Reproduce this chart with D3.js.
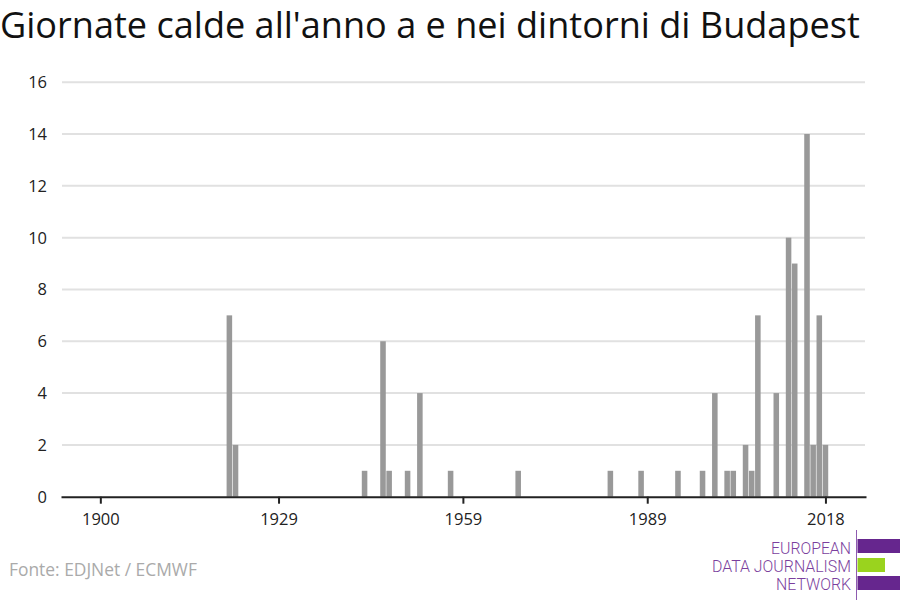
<!DOCTYPE html>
<html>
<head>
<meta charset="utf-8">
<script src="https://cdn.jsdelivr.net/npm/d3@7"></script>
<style>
  body { margin: 0; background: #fff; }
  svg { font-family: "Open Sans", sans-serif; }
</style>
</head>
<body>
<svg id="chart" width="900" height="600"></svg>
<script>
// hot days per year, only years with at least one
const years = [1921, 1922, 1943, 1946, 1947, 1950, 1952, 1957, 1968, 1983, 1988, 1994,
               1998, 2000, 2002, 2003, 2005, 2006, 2007, 2010, 2012, 2013, 2015, 2016, 2017, 2018];
const hotDays = [7, 2, 1, 6, 1, 1, 4, 1, 1, 1, 1, 1,
                 1, 4, 1, 1, 2, 1, 7, 4, 10, 9, 14, 2, 7, 2];
const xTicks = [1900, 1929, 1959, 1989, 2018];
const yTicks = [0, 2, 4, 6, 8, 10, 12, 14, 16];

const data = years.map((y, i) => ({year: y, value: hotDays[i]}));

const svg = d3.select("#chart");

const x = d3.scaleLinear()
    .domain([1893.6, 2024.6])
    .range([61, 866]);

const y = d3.scaleLinear()
    .domain([0, 16])
    .range([496.7, 82.2]);

const step = x(1901) - x(1900);

// grid
svg.append("g")
    .selectAll("line")
    .data(yTicks.filter(d => d > 0))
    .enter().append("line")
    .attr("x1", 62)
    .attr("x2", 865)
    .attr("y1", d => y(d))
    .attr("y2", d => y(d))
    .attr("stroke", "#e1e1e1")
    .attr("stroke-width", 2);

// y labels
svg.append("g")
    .selectAll("text")
    .data(yTicks)
    .enter().append("text")
    .attr("x", 47)
    .attr("y", d => y(d))
    .attr("dy", "0.36em")
    .attr("text-anchor", "end")
    .attr("font-size", 16.5)
    .attr("fill", "#222")
    .text(d => d);

// bars
svg.append("g")
    .selectAll("rect")
    .data(data)
    .enter().append("rect")
    .attr("x", d => x(d.year) - step / 2 + 0.3)
    .attr("width", step - 0.6)
    .attr("y", d => y(d.value))
    .attr("height", d => y(0) - y(d.value))
    .attr("fill", "#999999");

// x axis
const xAxis = svg.append("g")
    .attr("transform", `translate(0,${y(0)})`)
    .call(d3.axisBottom(x).tickValues(xTicks).tickFormat(d3.format("d")).tickSize(7).tickSizeOuter(0));
xAxis.select(".domain").attr("stroke", "#222").attr("stroke-width", 2);
xAxis.selectAll(".tick line").attr("stroke", "#222").attr("stroke-width", 2);
xAxis.selectAll(".tick text")
    .attr("font-size", 16.5)
    .attr("font-family", "Open Sans, sans-serif")
    .attr("fill", "#222")
    .attr("dy", "1.1em");

// title
svg.append("text")
    .attr("x", 0)
    .attr("y", 38)
    .attr("font-size", 36.1)
    .attr("fill", "#111")
    .text("Giornate calde all'anno a e nei dintorni di Budapest");

// source
svg.append("text")
    .attr("x", 9)
    .attr("y", 576)
    .attr("font-size", 17.4)
    .attr("fill", "#aaaaaa")
    .text("Fonte: EDJNet / ECMWF");

// logo
const logo = svg.append("g");
logo.append("line")
    .attr("x1", 856.5).attr("x2", 856.5)
    .attr("y1", 530).attr("y2", 600)
    .attr("stroke", "#8e5bb0").attr("stroke-width", 1);
logo.append("rect").attr("x", 857.5).attr("y", 539).attr("width", 43).attr("height", 14).attr("fill", "#66268e");
logo.append("rect").attr("x", 857.5).attr("y", 558).attr("width", 27.5).attr("height", 14).attr("fill", "#9ad31e");
logo.append("rect").attr("x", 857.5).attr("y", 576).attr("width", 43).attr("height", 14).attr("fill", "#66268e");

const logoLines = [["EUROPEAN", 553.5, 80], ["DATA JOURNALISM", 572, 139], ["NETWORK", 590, 75]];
logo.selectAll("text.logo")
    .data(logoLines)
    .enter().append("text")
    .attr("class", "logo")
    .attr("x", 851)
    .attr("y", d => d[1])
    .attr("text-anchor", "end")
    .attr("font-family", "Roboto, sans-serif")
    .attr("font-weight", 300)
    .attr("font-size", 17)
    .attr("fill", "#7b3f9e")
    .attr("textLength", d => d[2])
    .attr("lengthAdjust", "spacingAndGlyphs")
    .text(d => d[0]);
</script>
</body>
</html>
